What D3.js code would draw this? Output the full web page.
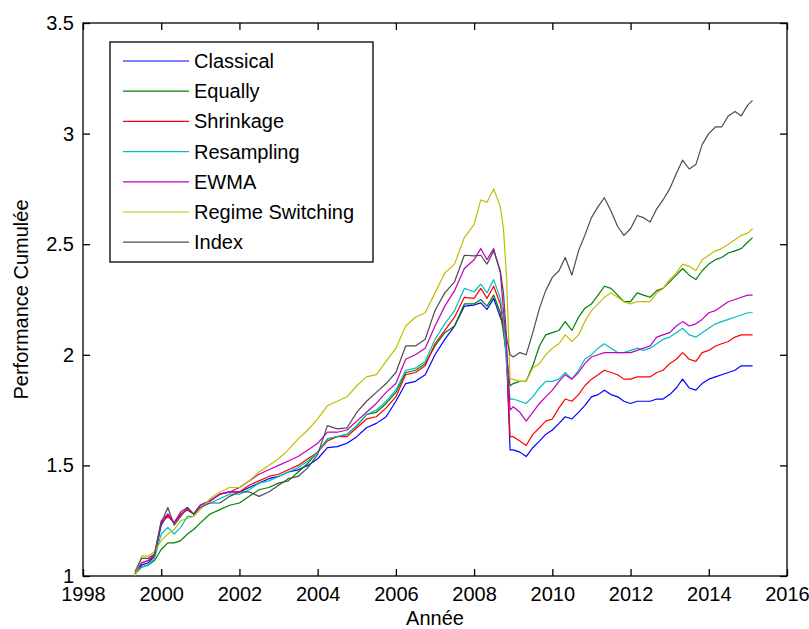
<!DOCTYPE html>
<html>
<head>
<meta charset="utf-8">
<script src="https://cdn.jsdelivr.net/npm/d3@7"></script>
<style>
  body { margin: 0; background: #fff; }
  text { font-family: "Liberation Sans", Arial, sans-serif; fill: #000; }
</style>
</head>
<body>
<div id="container"></div>
<script>
/* CONSTANTS AND GLOBALS */
const width = 809,
  height = 629,
  margin = { top: 23, right: 22, bottom: 53, left: 83 };

/* DATA */
const years = [1999.33, 1999.5, 1999.67, 1999.83, 2000.0, 2000.17, 2000.33, 2000.5, 2000.67, 2000.83,
  2001.0, 2001.25, 2001.5, 2001.75, 2002.0, 2002.25, 2002.5, 2002.75, 2003.0, 2003.25,
  2003.5, 2003.75, 2004.0, 2004.25, 2004.5, 2004.75, 2005.0, 2005.25, 2005.5, 2005.75,
  2006.0, 2006.25, 2006.5, 2006.75, 2007.0, 2007.25, 2007.5, 2007.75, 2008.0, 2008.17,
  2008.33, 2008.5, 2008.67, 2008.75, 2008.83, 2008.92, 2009.0, 2009.17, 2009.33, 2009.5,
  2009.67, 2009.83, 2010.0, 2010.17, 2010.33, 2010.5, 2010.67, 2010.83, 2011.0, 2011.17,
  2011.33, 2011.5, 2011.67, 2011.83, 2012.0, 2012.17, 2012.33, 2012.5, 2012.67, 2012.83,
  2013.0, 2013.17, 2013.33, 2013.5, 2013.67, 2013.83, 2014.0, 2014.17, 2014.33, 2014.5,
  2014.67, 2014.83, 2015.0, 2015.12];

const classical = [1.01, 1.05, 1.06, 1.09, 1.23, 1.28, 1.24, 1.28, 1.30, 1.28, 1.32, 1.34, 1.37, 1.38,
  1.38, 1.40, 1.42, 1.44, 1.45, 1.47, 1.48, 1.50, 1.53,
  1.58, 1.585, 1.60, 1.63, 1.67, 1.69, 1.72, 1.79, 1.87, 1.88, 1.91, 2.00, 2.07, 2.13, 2.22,
  2.225, 2.235, 2.205, 2.255, 2.17, 2.13, 1.99, 1.57, 1.57,
  1.56, 1.54, 1.58, 1.61,
  1.64, 1.66, 1.69, 1.72, 1.71, 1.74, 1.77, 1.81, 1.82, 1.84, 1.82, 1.81, 1.79, 1.78, 1.79, 1.79, 1.79, 1.80, 1.80, 1.82,
  1.85, 1.89, 1.85, 1.84, 1.87, 1.89, 1.90, 1.91, 1.92, 1.93, 1.95, 1.95, 1.95];

const equally = [1.01, 1.04, 1.05, 1.07, 1.12, 1.15, 1.15, 1.16, 1.19, 1.21, 1.24, 1.28, 1.30, 1.32,
  1.33, 1.36, 1.39, 1.40, 1.42, 1.43, 1.47, 1.51, 1.56,
  1.62, 1.63, 1.64, 1.68, 1.73, 1.74, 1.78, 1.83, 1.92, 1.93, 1.96, 2.04, 2.10, 2.13, 2.23,
  2.23, 2.25, 2.22, 2.27, 2.19, 2.10, 1.99, 1.86, 1.87,
  1.88, 1.88, 1.95, 2.04,
  2.09, 2.10, 2.11, 2.15, 2.11, 2.17, 2.21, 2.23, 2.27, 2.31, 2.30, 2.27, 2.24, 2.24, 2.28, 2.27, 2.26, 2.29, 2.30, 2.33,
  2.36, 2.39, 2.36, 2.34, 2.38, 2.41, 2.43, 2.44, 2.46, 2.47, 2.48, 2.51, 2.53];

const shrinkage = [1.01, 1.06, 1.07, 1.09, 1.24, 1.27, 1.24, 1.28, 1.30, 1.28, 1.32, 1.34, 1.37, 1.38,
  1.38, 1.41, 1.43, 1.45, 1.46, 1.48, 1.50, 1.53, 1.56,
  1.61, 1.63, 1.63, 1.67, 1.71, 1.72, 1.76, 1.81, 1.91, 1.92, 1.95, 2.05, 2.11, 2.17, 2.26,
  2.255, 2.30, 2.255, 2.31, 2.23, 2.13, 1.99, 1.63, 1.63,
  1.61, 1.59, 1.64, 1.67,
  1.70, 1.71, 1.76, 1.80, 1.79, 1.82, 1.86, 1.89, 1.91, 1.93, 1.92, 1.91, 1.89, 1.89, 1.90, 1.90, 1.90, 1.92, 1.93, 1.96,
  1.98, 2.01, 1.98, 1.97, 2.01, 2.02, 2.04, 2.05, 2.06, 2.08, 2.09, 2.09, 2.09];

const resampling = [1.01, 1.04, 1.05, 1.08, 1.19, 1.22, 1.19, 1.22, 1.27, 1.27, 1.32, 1.33, 1.35, 1.37,
  1.37, 1.39, 1.42, 1.43, 1.45, 1.47, 1.49, 1.52, 1.56,
  1.62, 1.63, 1.64, 1.68, 1.73, 1.75, 1.79, 1.84, 1.93, 1.94, 1.97, 2.07, 2.14, 2.20, 2.30,
  2.285, 2.32, 2.28, 2.34, 2.255, 2.16, 1.95, 1.80, 1.80,
  1.79, 1.78, 1.81, 1.85,
  1.88, 1.88, 1.89, 1.92, 1.89, 1.93, 1.98, 2.00, 2.03, 2.05, 2.03, 2.01, 2.01, 2.02, 2.03, 2.02, 2.03, 2.05, 2.07, 2.08,
  2.10, 2.12, 2.09, 2.08, 2.10, 2.12, 2.14, 2.15, 2.16, 2.17, 2.18, 2.19, 2.19];

const ewma = [1.01, 1.06, 1.07, 1.10, 1.25, 1.28, 1.24, 1.29, 1.31, 1.28, 1.32, 1.34, 1.37, 1.38,
  1.40, 1.43, 1.46, 1.48, 1.50, 1.52, 1.54, 1.57, 1.60,
  1.65, 1.65, 1.66, 1.70, 1.74, 1.78, 1.83, 1.87, 1.98, 2.00, 2.03, 2.13, 2.22, 2.29, 2.39,
  2.43, 2.48, 2.43, 2.48, 2.37, 2.20, 2.05, 1.75, 1.765,
  1.74, 1.70, 1.74, 1.78,
  1.81, 1.84, 1.88, 1.91, 1.89, 1.92, 1.96, 1.99, 2.00, 2.01, 2.01, 2.01, 2.01, 2.01, 2.02, 2.03, 2.04, 2.08, 2.09, 2.10,
  2.13, 2.15, 2.13, 2.14, 2.16, 2.19, 2.20, 2.22, 2.24, 2.25, 2.26, 2.27, 2.27];

const regime = [1.00, 1.09, 1.09, 1.11, 1.16, 1.19, 1.21, 1.25, 1.26, 1.27, 1.30, 1.35, 1.38, 1.40,
  1.40, 1.43, 1.47, 1.50, 1.53, 1.57, 1.62, 1.66, 1.71,
  1.77, 1.79, 1.81, 1.86, 1.90, 1.91, 1.97, 2.03, 2.13, 2.17, 2.19, 2.28, 2.37, 2.41, 2.53,
  2.59, 2.70, 2.69, 2.75, 2.67, 2.57, 2.35, 1.89, 1.89,
  1.88, 1.88, 1.94, 1.96,
  2.00, 2.03, 2.05, 2.09, 2.06, 2.09, 2.15, 2.20, 2.23, 2.26, 2.28, 2.26, 2.24, 2.23, 2.24, 2.24, 2.24, 2.28, 2.30, 2.34,
  2.37, 2.41, 2.40, 2.38, 2.43, 2.45, 2.47, 2.48, 2.50, 2.52, 2.54, 2.55, 2.57];

const indexPerf = [1.02, 1.08, 1.08, 1.10, 1.24, 1.31, 1.23, 1.27, 1.31, 1.28, 1.31, 1.33, 1.33, 1.36,
  1.38, 1.38, 1.36, 1.38, 1.41, 1.44, 1.45, 1.49, 1.55,
  1.68, 1.665, 1.67, 1.74, 1.79, 1.83, 1.87, 1.92, 2.04, 2.04, 2.07, 2.20, 2.28, 2.33, 2.45,
  2.447, 2.45, 2.41, 2.47, 2.38, 2.28, 2.08, 2.00, 1.99,
  2.01, 2.00, 2.10, 2.21,
  2.29, 2.35, 2.38, 2.44, 2.36, 2.47, 2.54, 2.62, 2.67, 2.71, 2.65, 2.58, 2.54, 2.57, 2.63, 2.62, 2.60, 2.66, 2.70, 2.75,
  2.82, 2.88, 2.84, 2.86, 2.95, 3.00, 3.03, 3.03, 3.08, 3.10, 3.08, 3.13, 3.15];

const seriesNames = ["Classical", "Equally", "Shrinkage", "Resampling", "EWMA", "Regime Switching", "Index"];
const seriesValues = [classical, equally, shrinkage, resampling, ewma, regime, indexPerf];
const seriesColors = ["#0000ff", "#008000", "#ff0000", "#00bfbf", "#bf00bf", "#bfbf00", "#4d4d4d"];

const xTicks = [1998, 2000, 2002, 2004, 2006, 2008, 2010, 2012, 2014, 2016];
const yTicks = [1, 1.5, 2, 2.5, 3, 3.5];

/* SVG */
const svg = d3.select("#container")
  .append("svg")
  .attr("width", width)
  .attr("height", height)

/* SCALES */
const xScale = d3.scaleLinear()
  .domain([1998, 2016])
  .range([margin.left, width - margin.right])

const yScale = d3.scaleLinear()
  .domain([1, 3.5])
  .range([height - margin.bottom, margin.top])

const x0 = margin.left, x1 = width - margin.right
const y0 = height - margin.bottom, y1 = margin.top

/* AXES (MATLAB style: ticks inside, box on) */
const tickLen = 7

svg.append("g")
  .attr("class", "x-axis")
  .attr("transform", `translate(0, ${y0})`)
  .call(d3.axisBottom(xScale).tickValues(xTicks).tickFormat(d3.format("d"))
    .tickSizeInner(-tickLen).tickSizeOuter(0).tickPadding(11))

svg.append("g")
  .attr("transform", `translate(0, ${y1})`)
  .call(d3.axisTop(xScale).tickValues(xTicks).tickFormat("")
    .tickSizeInner(-tickLen).tickSizeOuter(0))

svg.append("g")
  .attr("class", "y-axis")
  .attr("transform", `translate(${x0}, 0)`)
  .call(d3.axisLeft(yScale).tickValues(yTicks).tickFormat(d3.format("~g"))
    .tickSizeInner(-tickLen).tickSizeOuter(0).tickPadding(9))

svg.append("g")
  .attr("transform", `translate(${x1}, 0)`)
  .call(d3.axisRight(yScale).tickValues(yTicks).tickFormat("")
    .tickSizeInner(-tickLen).tickSizeOuter(0))

svg.selectAll(".tick text")
  .style("font-size", "20px")
  .style("font-family", "'Liberation Sans', Arial, sans-serif")
  .attr("fill", "#000")

svg.selectAll(".domain").remove()
svg.selectAll(".tick line").attr("stroke", "#000").attr("stroke-width", 1.3)

svg.append("rect")
  .attr("x", x0)
  .attr("y", y1)
  .attr("width", x1 - x0)
  .attr("height", y0 - y1)
  .attr("fill", "none")
  .attr("stroke", "#000")
  .attr("stroke-width", 1.3)

/* LINES */
const line = d3.line()
  .x((d, i) => xScale(years[i]))
  .y(d => yScale(d))

svg.selectAll(".series")
  .data(seriesValues)
  .join("path")
  .attr("class", "series")
  .attr("d", d => line(d))
  .attr("fill", "none")
  .attr("stroke", (d, i) => seriesColors[i])
  .attr("stroke-width", 1.2)
  .attr("stroke-linejoin", "round")

/* AXIS LABELS */
svg.append("text")
  .attr("x", (x0 + x1) / 2)
  .attr("y", 625)
  .attr("text-anchor", "middle")
  .style("font-size", "20px")
  .text("Année")

svg.append("text")
  .attr("transform", `translate(28, ${(y0 + y1) / 2}) rotate(-90)`)
  .attr("text-anchor", "middle")
  .style("font-size", "20px")
  .text("Performance Cumulée")

/* LEGEND */
const legend = svg.append("g").attr("class", "legend")

legend.append("rect")
  .attr("x", 110)
  .attr("y", 42)
  .attr("width", 263)
  .attr("height", 220)
  .attr("fill", "#fff")
  .attr("stroke", "#000")
  .attr("stroke-width", 1.3)

const rowY = i => 61 + i * 30.2

legend.selectAll(".legend-line")
  .data(seriesNames)
  .join("line")
  .attr("class", "legend-line")
  .attr("x1", 123)
  .attr("x2", 189)
  .attr("y1", (d, i) => rowY(i))
  .attr("y2", (d, i) => rowY(i))
  .attr("stroke", (d, i) => seriesColors[i])
  .attr("stroke-width", 1.2)

legend.selectAll(".legend-text")
  .data(seriesNames)
  .join("text")
  .attr("class", "legend-text")
  .attr("x", 194)
  .attr("y", (d, i) => rowY(i))
  .attr("dy", "0.35em")
  .style("font-size", "20px")
  .text(d => d)
</script>
</body>
</html>
